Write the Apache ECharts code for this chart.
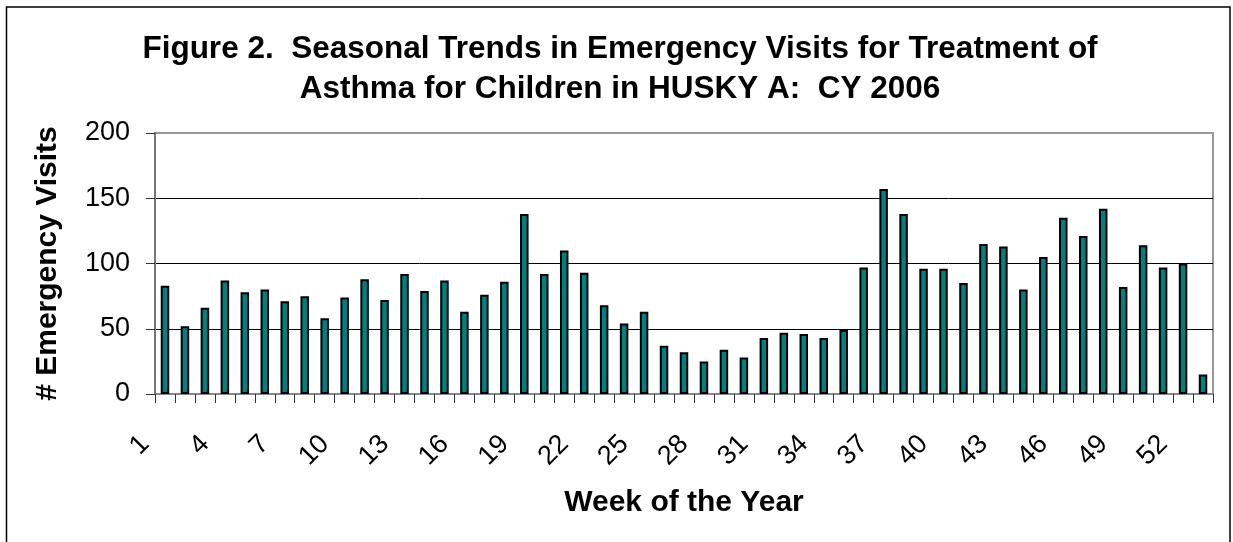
<!DOCTYPE html>
<html>
<head>
<meta charset="utf-8">
<script src="https://cdn.jsdelivr.net/npm/echarts@6/dist/echarts.min.js"></script>
<style>
html,body{margin:0;padding:0;background:#fff;}
#chart{width:1233px;height:542px;}
</style>
</head>
<body>
<div id="chart"></div>
<script>
var weeks = ['1','2','3','4','5','6','7','8','9','10','11','12','13','14','15','16','17','18','19','20','21','22','23','24','25','26','27','28','29','30','31','32','33','34','35','36','37','38','39','40','41','42','43','44','45','46','47','48','49','50','51','52','53'];
var visits = [83,52,66,87,78,80,71,75,58,74,88,72,92,79,87,63,76,86,138,92,110,93,68,54,63,37,32,25,34,28,43,47,46,43,49,97,157,138,96,96,85,115,113,80,105,135,121,142,82,114,97,100,15];
var yTicks = [0, 50, 100, 150, 200];

var FONT = '"Liberation Sans", Arial, sans-serif';
var chart = echarts.init(document.getElementById('chart'), null, {renderer:'canvas'});
chart.setOption({
  animation: false,
  backgroundColor: '#fff',
  title: {
    text: 'Figure 2.  Seasonal Trends in Emergency Visits for Treatment of\nAsthma for Children in HUSKY A:  CY 2006',
    left: 615, top: 24, textAlign: 'center',
    textStyle: {fontFamily: FONT, fontSize: 31.5, fontWeight: 'bold', color: '#000', lineHeight: 40}
  },
  graphic: [{
    type: 'rect', shape: {x: 6.5, y: 7, width: 1223.5, height: 560},
    style: {fill: 'none', stroke: '#000', lineWidth: 1.5}, silent: true, z: 0
  }],
  grid: {left: 155, right: 20, top: 133, bottom: 148, show: true, borderColor: '#999', borderWidth: 2, backgroundColor: 'transparent'},
  xAxis: {
    type: 'category', data: weeks,
    name: 'Week of the Year', nameLocation: 'middle', nameGap: 94,
    nameTextStyle: {fontFamily: FONT, fontSize: 30, fontWeight: 'bold', color: '#000'},
    axisLine: {show: true, lineStyle: {color: '#888', width: 2}},
    axisTick: {show: true, interval: 0, length: 9, inside: false, lineStyle: {color: '#333', width: 1}},
    axisLabel: {interval: 2, rotate: 45, margin: 26, padding: [0, 28, 0, 0], fontFamily: FONT, fontSize: 27, color: '#000'},
    splitLine: {show: false}
  },
  yAxis: {
    type: 'value', min: yTicks[0], max: yTicks[yTicks.length - 1], interval: 50,
    name: '# Emergency Visits', nameLocation: 'middle', nameGap: 92,
    nameTextStyle: {fontFamily: FONT, fontSize: 30, fontWeight: 'bold', color: '#000'},
    axisLine: {show: true, lineStyle: {color: '#777', width: 2}},
    axisTick: {show: true, length: 9, lineStyle: {color: '#333', width: 1}},
    axisLabel: {margin: 25, fontFamily: FONT, fontSize: 27, color: '#000'},
    splitLine: {show: true, lineStyle: {color: ['#888', '#000', '#000', '#000', '#999'], width: 1}}
  },
  series: [{
    type: 'bar', data: visits, barWidth: 8.5,
    itemStyle: {color: '#008080', borderColor: '#000', borderWidth: 2}
  }]
});
</script>
</body>
</html>
